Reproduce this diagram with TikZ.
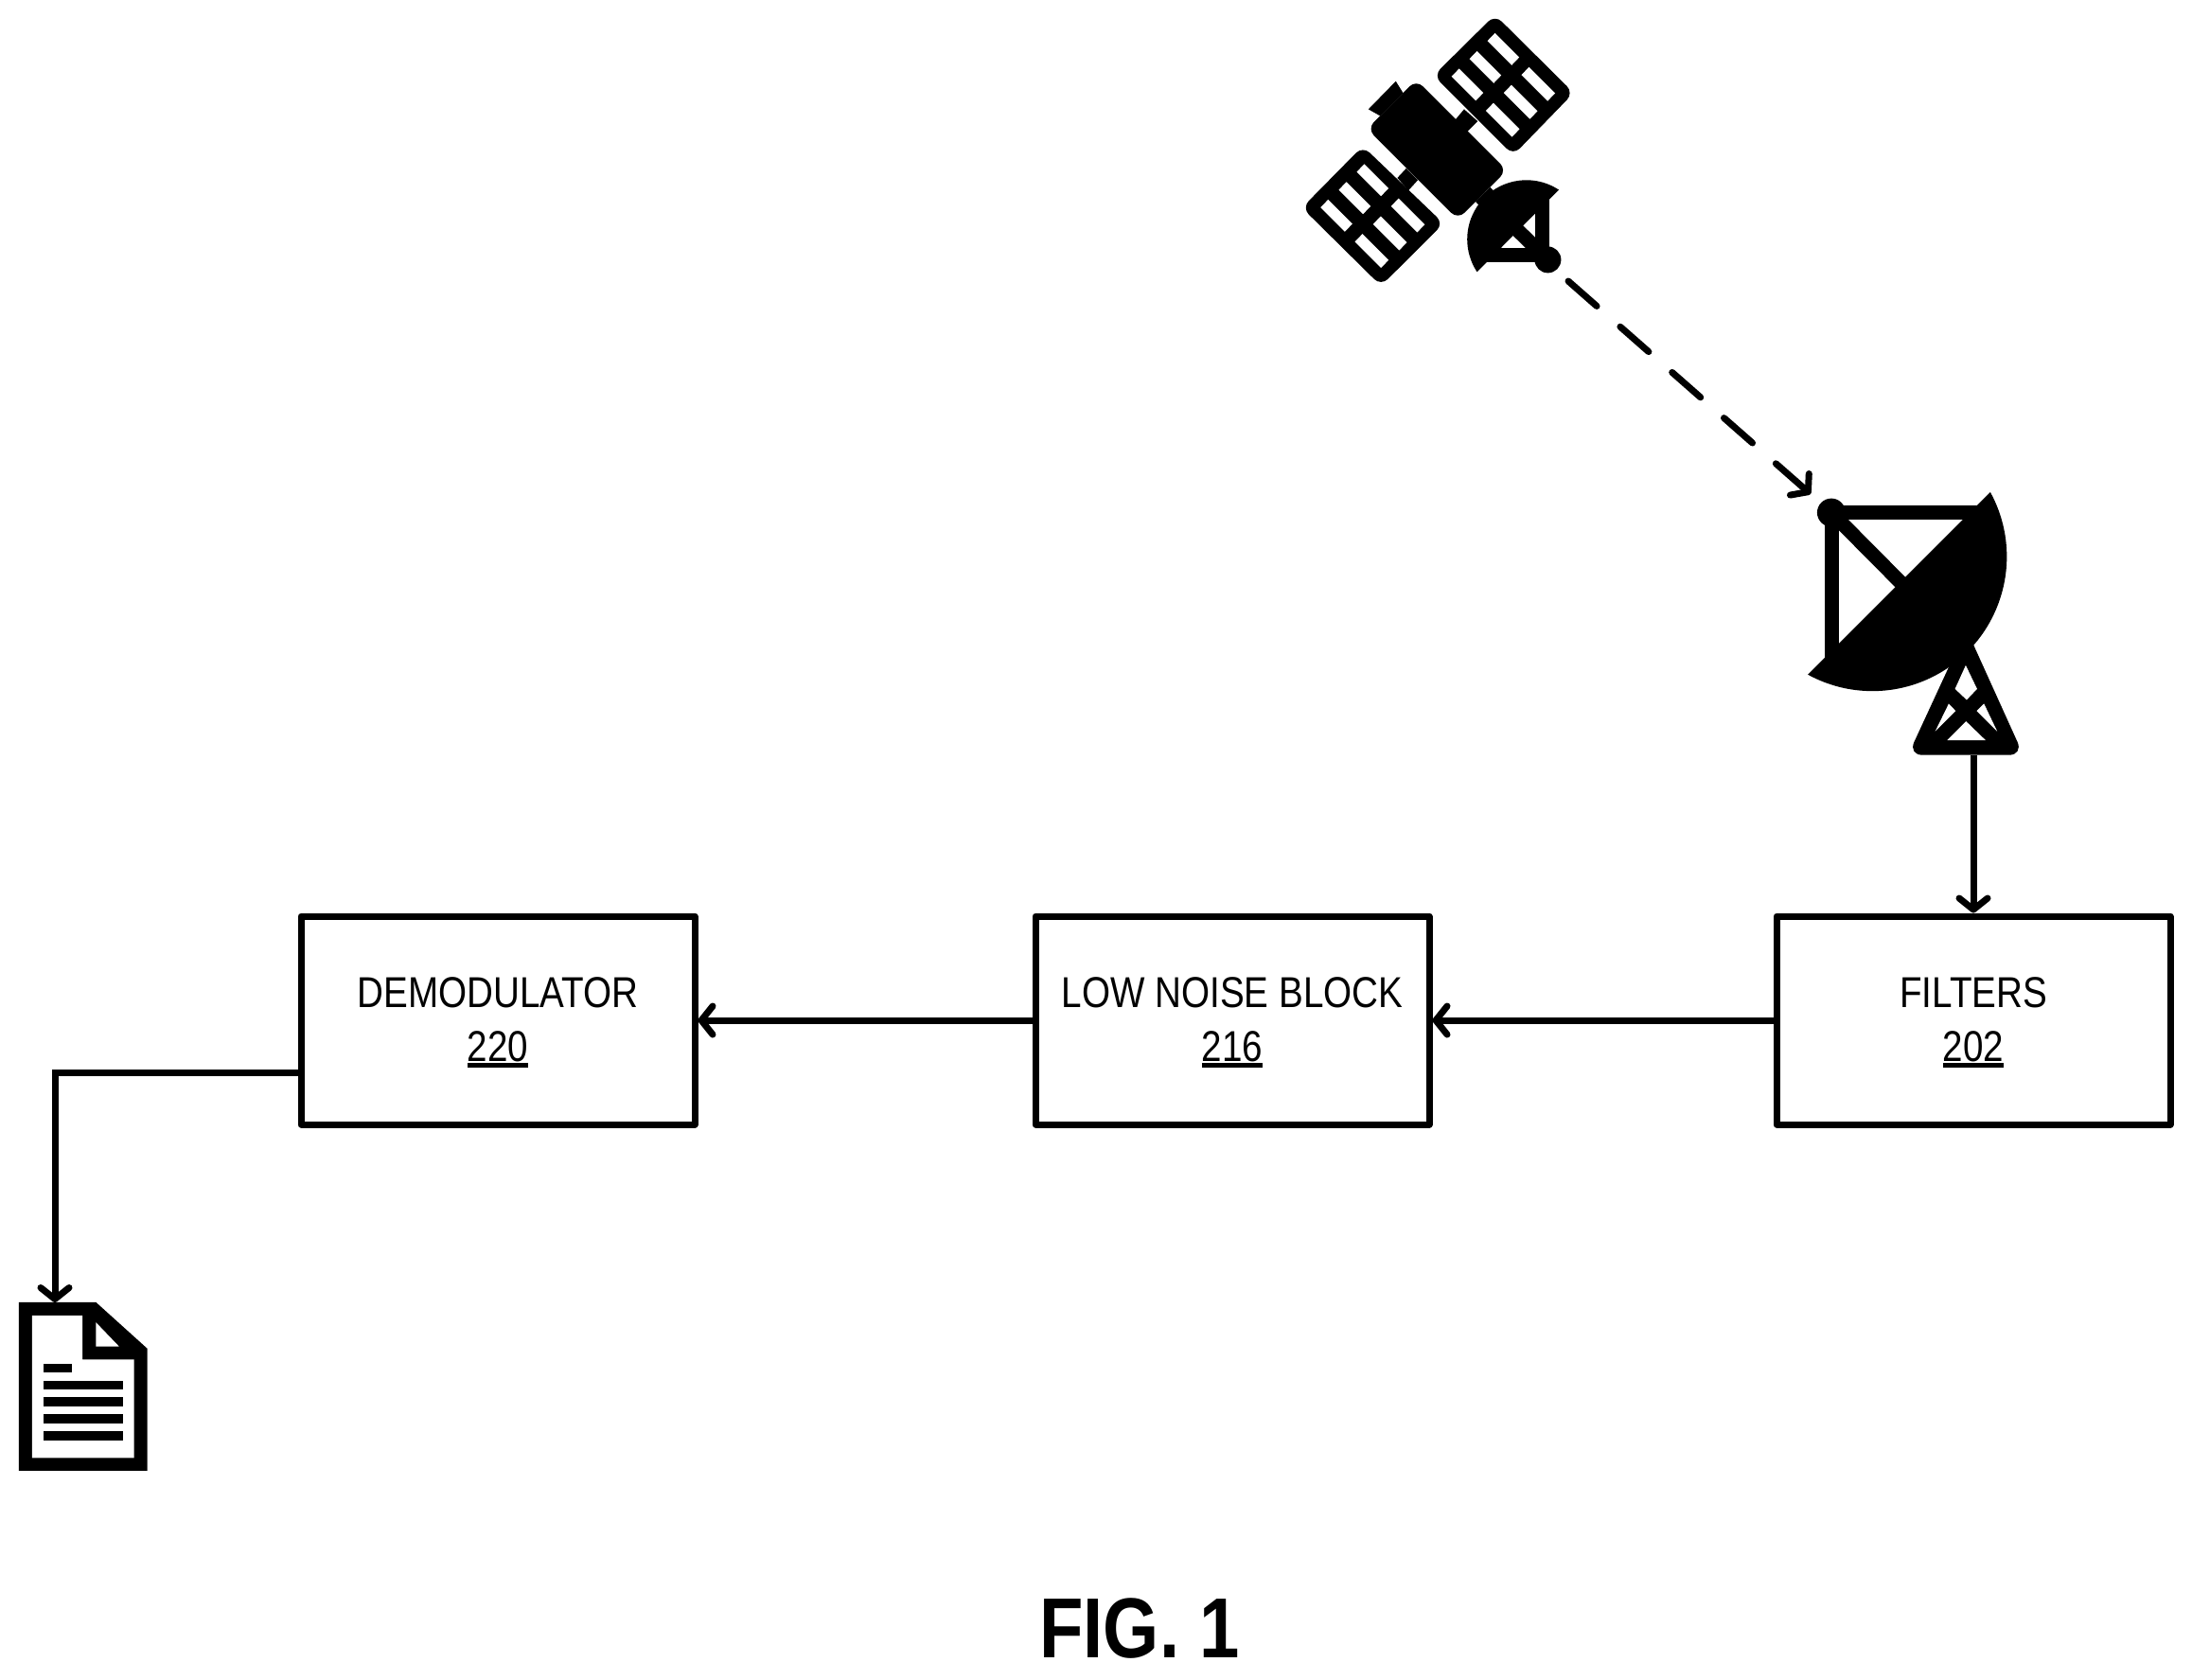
\documentclass[tikz,border=0pt]{standalone}
\usepackage{fontspec}
\setmainfont[FakeStretch=0.845]{Liberation Sans}
\usetikzlibrary{arrows.meta}

\newcommand{\refnum}[1]{\leavevmode\vtop{\hbox{#1}\kern.02cm\hrule height .045cm}}

\tikzset{
  box/.style={draw,line width=.07cm,line join=round,minimum width=4.16cm,minimum height=2.2cm,inner sep=0,align=center,font=\fontsize{13}{16.2}\selectfont,text height=.86cm,text depth=0cm},
  link/.style={line width=.07cm,-{Straight Barb[length=.12cm,width=.3cm,round]}},
  radio/.style={link,line cap=round,dash pattern=on .4cm off .33cm},
  icon/.style={x=.00333cm,y=-.00333cm},
  strut/.style={line width=.15cm}
}

\begin{document}
\begin{tikzpicture}
\useasboundingbox (0,0) rectangle (23.16,-17.74);

\coordinate (satfeed) at (16.57,-2.97);
\coordinate (dishfeed) at (19.13,-5.22);
\coordinate (dishbase) at (20.85,-7.98);
\coordinate (doctop) at (.58,-13.76);

\node[box] (filters) at (20.85,-10.78) {FILTERS\\\refnum{202}};
\node[box] (lnb) at (13.02,-10.78) {LOW NOISE BLOCK\\\refnum{216}};
\node[box] (demod) at (5.26,-10.78) {DEMODULATOR\\\refnum{220}};
\node[font=\fontsize{25.6}{30}\selectfont\bfseries] (figlabel) at (12.04,-17.2) {FIG. 1};

\draw[radio] (satfeed) -- (dishfeed);
\draw[link] (dishbase) -- (filters.north);
\draw[link] (filters.west) -- (lnb.east);
\draw[link] (lnb.west) -- (demod.east);
\draw[link] ([yshift=-.55cm]demod.west) -| (doctop);

% satellite
\begin{scope}[shift={(13.6,0)},icon]
\fill[rounded corners=.1cm] (660,47) -- (910,295) -- (718,493) -- (465,240) -- cycle;
\fill[rounded corners=.1cm] (240,464) -- (497,710) -- (298,908) -- (47,660) -- cycle;
\fill[rounded corners=.1cm] (410,253) -- (698,541) -- (542,697) -- (254,409) -- cycle;
\fill (345,258) -- (368,295) -- (295,368) -- (258,347) -- cycle;
\fill (530,385) -- (562,347) -- (605,385) -- (570,420) -- cycle;
\fill (378,535) -- (415,572) -- (385,605) -- (350,565) -- cycle;
\fill (645,595) -- (690,640) -- (640,685) -- (598,640) -- cycle;
\fill[white] (660,105) -- ++(77,77) -- ++(-24,25) -- ++(-77,-77) -- cycle;
\fill[white] (603,162) -- ++(77,77) -- ++(-24,25) -- ++(-77,-77) -- cycle;
\fill[white] (546,218) -- ++(77,77) -- ++(-24,25) -- ++(-77,-77) -- cycle;
\fill[white] (768,213) -- ++(83,83) -- ++(-24,25) -- ++(-83,-83) -- cycle;
\fill[white] (712,270) -- ++(83,83) -- ++(-24,25) -- ++(-83,-83) -- cycle;
\fill[white] (655,327) -- ++(83,83) -- ++(-24,25) -- ++(-83,-83) -- cycle;
\fill[white] (245,521) -- ++(77,77) -- ++(-24,25) -- ++(-77,-77) -- cycle;
\fill[white] (188,578) -- ++(77,77) -- ++(-24,25) -- ++(-77,-77) -- cycle;
\fill[white] (130,634) -- ++(77,77) -- ++(-24,25) -- ++(-77,-77) -- cycle;
\fill[white] (354,630) -- ++(83,83) -- ++(-24,25) -- ++(-83,-83) -- cycle;
\fill[white] (297,687) -- ++(83,83) -- ++(-24,25) -- ++(-83,-83) -- cycle;
\fill[white] (239,743) -- ++(83,83) -- ++(-24,25) -- ++(-83,-83) -- cycle;
\fill (863,603) arc[start angle=-56.7,end angle=-213.4,radius=188] -- cycle;
\draw[strut] (811,610) -- (811,810) -- (630,810);
\draw[strut] (700,700) -- (828,825);
\fill (828,825) circle[radius=42];
\end{scope}

% dish and tower
\begin{scope}[shift={(18.8,-4.9)},icon]
\fill[rounded corners=.15cm] (409,925) -- (775,925) -- (594,525) -- cycle;
\fill[white] (592,640) -- (628,715) -- (595,750) -- (558,715) -- cycle;
\fill[white] (538,762) -- (560,785) -- (495,850) -- cycle;
\fill[white] (650,762) -- (692,850) -- (627,785) -- cycle;
\fill[white] (593,818) -- (655,878) -- (533,878) -- cycle;
\fill (670,90) arc[start angle=-28.7,end angle=118.7,radius=427] -- cycle;
\draw[strut] (650,155) -- (167,155) -- (167,640);
\draw[strut] (165,155) -- (420,412);
\fill (165,155) circle[radius=45];
\end{scope}

% document
\begin{scope}[shift={(0,-13.4)},icon]
\fill (60,108) -- (305,108) -- (468,255) -- (468,643) -- (60,643) -- cycle;
\fill[white] (102,150) -- (262,150) -- (262,290) -- (426,290) -- (426,602) -- (102,602) -- cycle;
\fill[white] (305,172) -- (378,248) -- (305,248) -- cycle;
\fill (138,303) rectangle (228,332);
\fill (138,357) rectangle (390,384);
\fill (138,408) rectangle (390,438);
\fill (138,462) rectangle (390,492);
\fill (138,516) rectangle (390,546);
\end{scope}

\end{tikzpicture}
\end{document}
